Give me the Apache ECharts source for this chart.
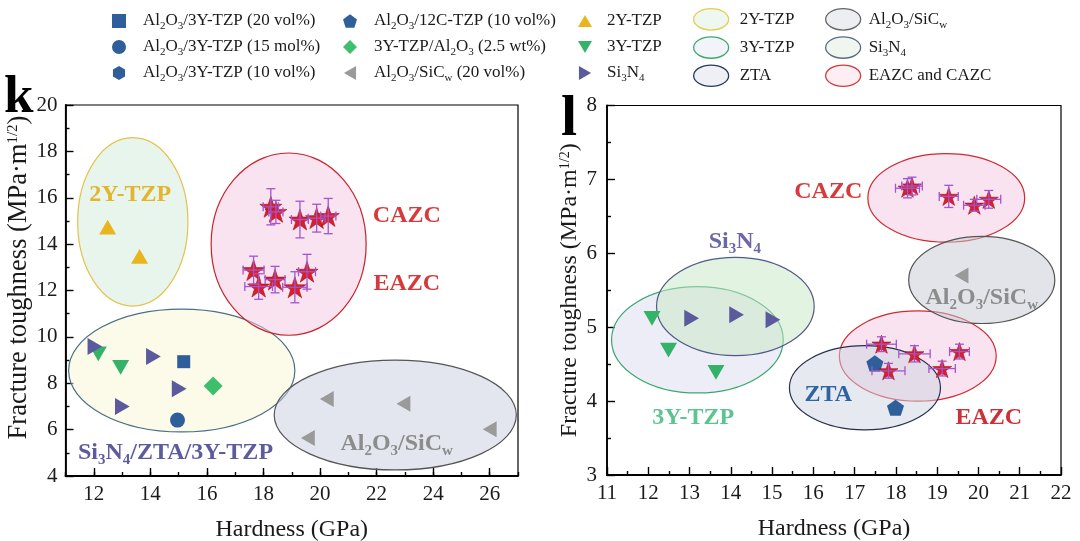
<!DOCTYPE html>
<html><head><meta charset="utf-8">
<script src="https://cdn.jsdelivr.net/npm/echarts@6/dist/echarts.min.js"></script>
<style>html,body{margin:0;padding:0;background:#fff}#c{width:1080px;height:541px}</style>
</head><body><div id="c"></div>
<script>
const FONT = '"Liberation Serif","Times New Roman",serif';

// ---------- panel k (left) ----------
const k_al3y20 = [[15.18, 8.93]];
const k_al3y15 = [[14.96, 6.41]];
const k_ytzpAl = [[16.22, 7.88]];
const k_alSiC = [[20.24, 7.32], [22.95, 7.12], [26.0, 6.02], [19.57, 5.64]];
const k_2y = [[12.49, 14.73], [13.62, 13.47]];
const k_3y = [[12.16, 9.27], [12.95, 8.68]];
const k_si3n4 = [[12.04, 9.59], [14.11, 9.15], [15.02, 7.76], [13.01, 7.0]];
// stars: x, y, x error, y error
const k_stars = [
  [18.26, 15.61, 0.27, 0.78], [18.44, 15.39, 0.25, 0.5], [19.29, 15.06, 0.3, 0.79], [19.88, 15.12, 0.3, 0.6], [20.29, 15.21, 0.27, 0.76],
  [17.65, 12.88, 0.37, 0.6], [17.83, 12.17, 0.49, 0.55], [18.41, 12.47, 0.35, 0.57], [19.11, 12.14, 0.43, 0.67], [19.54, 12.81, 0.3, 0.75]
];
// ellipses: centre x, centre y, radius x, radius y (data units)
const k_e2y = [[13.38, 14.96, 1.95, 3.63]];
const k_eMix = [[15.11, 8.55, 4.0, 2.65]];
const k_eAZC = [[18.89, 14.0, 2.74, 3.93]];
const k_eSiC = [[22.66, 6.63, 4.28, 2.37]];
const k_annotPos = [[13.29, 16.13], [23.07, 15.21], [23.07, 12.29], [14.89, 5.02], [22.71, 5.39]];
const k_annotText = ['2Y-TZP', 'CAZC', 'EAZC', 'MIX', 'SIC'];

// ---------- panel l (right) ----------
const l_al12c = [[17.49, 4.51], [17.99, 3.91]];
const l_alSiC = [[19.59, 5.70]];
const l_3y = [[12.09, 5.12], [12.49, 4.69], [13.64, 4.39]];
const l_si3n4 = [[13.05, 5.12], [14.14, 5.17], [15.02, 5.10]];
const l_stars = [
  [18.28, 6.88, 0.29, 0.13], [18.39, 6.91, 0.25, 0.12], [19.28, 6.77, 0.23, 0.15], [19.90, 6.65, 0.26, 0.08], [20.25, 6.73, 0.29, 0.12],
  [17.65, 4.77, 0.36, 0.1], [17.82, 4.41, 0.4, 0.1], [18.45, 4.64, 0.38, 0.11], [19.12, 4.44, 0.32, 0.1], [19.54, 4.67, 0.24, 0.1]
];
const l_e3y = [[13.19, 4.83, 2.08, 0.72]];
const l_eSi = [[14.11, 5.28, 1.91, 0.665]];
const l_eAZC = [[19.22, 6.75, 1.9, 0.60], [18.53, 4.61, 1.9, 0.61]];
const l_eSiC = [[20.08, 5.64, 1.77, 0.59]];
const l_eZTA = [[17.25, 4.18, 1.83, 0.57]];
const l_annotPos = [[14.10, 6.16], [16.36, 6.83], [20.08, 5.40], [13.09, 3.77], [16.36, 4.09], [20.25, 3.77]];
const l_annotText = ['SI3N4', 'CAZC', 'SIC', '3Y', 'ZTA', 'EAZC2'];

const xTicksK = [12, 14, 16, 18, 20, 22, 24, 26];

// ---------- styles ----------
const SYM = {
  square: 'path://M0,0L10,0L10,10L0,10Z',
  circle: 'circle',
  hexagon: 'path://M50,0L93.3,25L93.3,75L50,100L6.7,75L6.7,25Z',
  pentagon: 'path://M50,0L97.6,34.5L79.4,90.5L20.6,90.5L2.4,34.5Z',
  diamond: 'path://M5,0L10,5L5,10L0,5Z',
  left: 'path://M10,0L10,10L1.34,5Z',
  up: 'path://M5,0L10,8.66L0,8.66Z',
  down: 'path://M0,0L10,0L5,8.66Z',
  right: 'path://M0,0L8.66,5L0,10Z',
  star: 'path://M50,0L61.2,34.5L97.6,34.5L68.2,55.9L79.4,90.5L50,69.1L20.6,90.5L31.8,55.9L2.4,34.5L38.8,34.5Z',
  ell: 'path://M0,11A18,11 0 1,1 36,11A18,11 0 1,1 0,11Z'
};
const BLUE = '#2e5f9a';
const markerDefs = [
  {name: 'Al2O3/3Y-TZP (20 vol%)', sym: 'square', color: BLUE, size: 13, k: k_al3y20, l: []},
  {name: 'Al2O3/3Y-TZP (15 mol%)', sym: 'circle', color: BLUE, size: 15, k: k_al3y15, l: []},
  {name: 'Al2O3/3Y-TZP (10 vol%)', sym: 'hexagon', color: BLUE, size: 15, k: [], l: []},
  {name: 'Al2O3/12C-TZP (10 vol%)', sym: 'pentagon', color: BLUE, size: 17, k: [], l: l_al12c},
  {name: '3Y-TZP/Al2O3 (2.5 wt%)', sym: 'diamond', color: '#3dbf6c', size: 19, k: k_ytzpAl, l: []},
  {name: 'Al2O3/SiCw (20 vol%)', sym: 'left', color: '#9a9a9a', size: 16, k: k_alSiC, l: l_alSiC},
  {name: '2Y-TZP', sym: 'up', color: '#e8b51c', size: 17, k: k_2y, l: []},
  {name: '3Y-TZP', sym: 'down', color: '#34b368', size: 17, k: k_3y, l: l_3y},
  {name: 'Si3N4', sym: 'right', color: '#5a5a9c', size: 17, k: k_si3n4, l: l_si3n4}
];
const ellDefs = [
  {name: 'E:2Y-TZP', fill: 'rgba(210,236,220,0.5)', stroke: '#e3c34a', p: 0, data: k_e2y},
  {name: 'E:mix', fill: 'rgba(250,245,210,0.5)', stroke: '#4a6f86', p: 0, data: k_eMix},
  {name: 'E:EAZC and CAZC', fill: 'rgba(245,200,228,0.5)', stroke: '#c8242c', p: 0, data: k_eAZC},
  {name: 'E:Al2O3/SiCw', fill: 'rgba(200,206,222,0.5)', stroke: '#555555', p: 0, data: k_eSiC},
  {name: 'E:3Y-TZP', fill: 'rgba(220,220,240,0.5)', stroke: '#38a86e', p: 1, data: l_e3y},
  {name: 'E:Si3N4', fill: 'rgba(200,232,196,0.5)', stroke: '#4e5a88', p: 1, data: l_eSi},
  {name: 'E:EAZC and CAZC', fill: 'rgba(245,200,228,0.5)', stroke: '#d02a30', p: 1, data: l_eAZC},
  {name: 'E:Al2O3/SiCw', fill: 'rgba(198,202,212,0.5)', stroke: '#555555', p: 1, data: l_eSiC},
  {name: 'E:ZTA', fill: 'rgba(205,212,225,0.5)', stroke: '#25304c', p: 1, data: l_eZTA}
];
const ellLegend = {
  'E:2Y-TZP': ['#eef8f1', '#e6cc50'], 'E:3Y-TZP': ['#f3f3fa', '#3aaa70'], 'E:ZTA': ['#eef0f3', '#2a3a60'],
  'E:Al2O3/SiCw': ['#eceef2', '#666666'], 'E:Si3N4': ['#eef6ee', '#5a6a8a'], 'E:EAZC and CAZC': ['#fdeef4', '#d03a3a']
};
const LEG_TEXT = {
  'Al2O3/3Y-TZP (20 vol%)': 'Al{s|2}O{s|3}/3Y-TZP (20 vol%)',
  'Al2O3/3Y-TZP (15 mol%)': 'Al{s|2}O{s|3}/3Y-TZP (15 mol%)',
  'Al2O3/3Y-TZP (10 vol%)': 'Al{s|2}O{s|3}/3Y-TZP (10 vol%)',
  'Al2O3/12C-TZP (10 vol%)': 'Al{s|2}O{s|3}/12C-TZP (10 vol%)',
  '3Y-TZP/Al2O3 (2.5 wt%)': '3Y-TZP/Al{s|2}O{s|3} (2.5 wt%)',
  'Al2O3/SiCw (20 vol%)': 'Al{s|2}O{s|3}/SiC{s|w} (20 vol%)',
  '2Y-TZP': '2Y-TZP', '3Y-TZP': '3Y-TZP', 'Si3N4': 'Si{s|3}N{s|4}',
  'E:2Y-TZP': '2Y-TZP', 'E:3Y-TZP': '3Y-TZP', 'E:ZTA': 'ZTA',
  'E:Al2O3/SiCw': 'Al{s|2}O{s|3}/SiC{s|w}', 'E:Si3N4': 'Si{s|3}N{s|4}', 'E:EAZC and CAZC': 'EAZC and CAZC'
};
function tok(color, size, sub) {
  return sub ? {fontFamily: FONT, fontWeight: 'bold', fontSize: 15, lineHeight: 15, verticalAlign: 'bottom', color: color}
             : {fontFamily: FONT, fontWeight: 'bold', fontSize: size, lineHeight: 30, color: color};
}
const ANN_RICH = {
  pu: tok('#5d5b9e', 24), pus: tok('#5d5b9e', 24, true),
  bl: tok('#2f62a0', 24), gr: tok('#1f9e5c', 24),
  gy: tok('#8c8c8c', 24), gys: tok('#8c8c8c', 24, true),
  lp: tok('#6a68a8', 24), lps: tok('#6a68a8', 24, true)
};
const ANN = {
  '2Y-TZP': {t: '2Y-TZP', c: '#e2b52b'},
  'CAZC': {t: 'CAZC', c: '#d63a3c'},
  'EAZC': {t: 'EAZC', c: '#d63a3c'},
  'EAZC2': {t: 'EAZC', c: '#cc3038'},
  'MIX': {t: '{pu|Si}{pus|3}{pu|N}{pus|4}{pu|/}{bl|ZTA/}{gr|3Y-TZP}', c: '#5d5b9e'},
  'SIC': {t: '{gy|Al}{gys|2}{gy|O}{gys|3}{gy|/SiC}{gys|w}', c: '#8c8c8c'},
  'SI3N4': {t: '{lp|Si}{lps|3}{lp|N}{lps|4}', c: '#6a68a8'},
  '3Y': {t: '3Y-TZP', c: '#5cc490'},
  'ZTA': {t: 'ZTA', c: '#2f64a2'}
};
const ERR_COLOR = '#a255cf';

// ---------- render helpers ----------
function ellipseRender(def) {
  return function (params, api) {
    const c = api.coord([api.value(0), api.value(1)]);
    const s = api.size([api.value(2), api.value(3)]);
    return {type: 'ellipse', shape: {cx: c[0], cy: c[1], rx: s[0], ry: s[1]},
            style: {fill: def.fill, stroke: def.stroke, lineWidth: 1.2}};
  };
}
function errRender(params, api) {
  const x = api.value(0), y = api.value(1), xe = api.value(2), ye = api.value(3);
  const L = api.coord([x - xe, y]), R = api.coord([x + xe, y]);
  const T = api.coord([x, y + ye]), B = api.coord([x, y - ye]);
  const cap = 4.5;
  const st = {stroke: ERR_COLOR, lineWidth: 1.3};
  const ln = (x1, y1, x2, y2) => ({type: 'line', shape: {x1, y1, x2, y2}, style: st});
  return {type: 'group', children: [
    ln(L[0], L[1], R[0], R[1]), ln(L[0], L[1] - cap, L[0], L[1] + cap), ln(R[0], R[1] - cap, R[0], R[1] + cap),
    ln(T[0], T[1], B[0], B[1]), ln(T[0] - cap, T[1], T[0] + cap, T[1]), ln(B[0] - cap, B[1], B[0] + cap, B[1])
  ]};
}
function annotRender(texts) {
  return function (params, api) {
    const a = ANN[texts[params.dataIndex]];
    const c = api.coord([api.value(0), api.value(1)]);
    return {type: 'text', x: c[0], y: c[1], style: {
      text: a.t, fill: a.c, fontFamily: FONT, fontWeight: 'bold', fontSize: 24, lineHeight: 30,
      align: 'center', verticalAlign: 'middle', rich: ANN_RICH}};
  };
}

// ---------- series ----------
const series = [];
ellDefs.forEach(d => series.push({
  type: 'custom', name: d.name, xAxisIndex: d.p === 0 ? 0 : 2, yAxisIndex: d.p, z: 1,
  renderItem: ellipseRender(d), data: d.data, encode: {x: 0, y: 1},
  itemStyle: {color: d.fill, borderColor: d.stroke}, silent: true
}));
markerDefs.forEach(d => {
  [['k', 0, 0], ['l', 2, 1]].forEach(([key, xi, yi]) => series.push({
    type: 'scatter', name: d.name, xAxisIndex: xi, yAxisIndex: yi, z: 3, data: d[key],
    symbol: SYM[d.sym], symbolSize: d.size, symbolKeepAspect: true,
    itemStyle: {color: d.color, opacity: 1}, emphasis: {disabled: true}, silent: true
  }));
});
[[k_stars, 0, 0, 22], [l_stars, 2, 1, 19]].forEach(([arr, xi, yi, sz]) => {
  series.push({type: 'scatter', name: 'stars', xAxisIndex: xi, yAxisIndex: yi, z: 4,
    data: arr.map(s => [s[0], s[1]]), symbol: SYM.star, symbolSize: sz, symbolKeepAspect: true,
    itemStyle: {color: '#d81f2b', borderColor: '#a3101c', borderWidth: 0.6, opacity: 1},
    emphasis: {disabled: true}, silent: true});
  series.push({type: 'custom', name: 'err', xAxisIndex: xi, yAxisIndex: yi, z: 5,
    renderItem: errRender, data: arr, encode: {x: 0, y: 1}, silent: true});
});
[[k_annotPos, k_annotText, 0, 0], [l_annotPos, l_annotText, 2, 1]].forEach(([pos, txt, xi, yi]) => {
  series.push({type: 'custom', name: 'annot', xAxisIndex: xi, yAxisIndex: yi, z: 6,
    renderItem: annotRender(txt), data: pos, encode: {x: 0, y: 1}, silent: true});
});

// ---------- legends ----------
function legText(padLeft) {
  return {fontFamily: FONT, fontSize: 17, color: '#1a1a1a', lineHeight: 22, padding: [0, 0, 0, padLeft],
    rich: {s: {fontFamily: FONT, fontSize: 11, lineHeight: 11, verticalAlign: 'bottom', color: '#1a1a1a'}}};
}
function markerLegend(idx, left, pad) {
  return {orient: 'vertical', left: left, top: 10, padding: 0, itemGap: 4, itemWidth: 14, itemHeight: 14,
    selectedMode: false, symbolKeepAspect: true, formatter: n => LEG_TEXT[n], textStyle: legText(pad),
    data: idx.map(i => ({name: markerDefs[i].name, icon: SYM[markerDefs[i].sym],
      itemStyle: {color: markerDefs[i].color, borderWidth: 0}}))};
}
function ellLegendComp(names, left, pad) {
  return {orient: 'vertical', left: left, top: 8, padding: 0, itemGap: 5.5, itemWidth: 35, itemHeight: 22,
    selectedMode: false, symbolKeepAspect: true, formatter: n => LEG_TEXT[n], textStyle: legText(pad),
    data: names.map(n => ({name: n, icon: SYM.ell,
      itemStyle: {color: ellLegend[n][0], borderColor: ellLegend[n][1], borderWidth: 1.3}}))};
}

// ---------- axes ----------
const tickFont = {fontFamily: FONT, fontSize: 21, color: '#1a1a1a'};
function nameFont(size, padLeft) {
  return {fontFamily: FONT, fontSize: size, color: '#1a1a1a', lineHeight: size, padding: [0, 0, 0, padLeft],
    rich: {p: {fontFamily: FONT, fontSize: Math.round(size * 0.58), lineHeight: Math.round(size * 0.58), verticalAlign: 'top', color: '#1a1a1a'}}};
}
const axLine = {show: true, onZero: false, lineStyle: {color: '#000', width: 1.8}};
const tickLS = {color: '#000', width: 1.4};
const yName = 'Fracture toughness (MPa·m{p|1/2})';

const option = {
  animation: false,
  backgroundColor: '#fff',
  title: [
    {text: 'k', left: 4, top: 72, padding: 0, z: 0, textStyle: {fontFamily: FONT, fontWeight: 'bold', fontSize: 53, color: '#000'}},
    {text: 'l', left: 561, top: 91, padding: 0, z: 0, textStyle: {fontFamily: FONT, fontWeight: 'bold', fontSize: 58, color: '#000'}}
  ],
  grid: [
    {left: 65.5, right: 562, top: 105, bottom: 65, show: true, borderColor: '#000', borderWidth: 1.2, backgroundColor: 'transparent', outerBoundsMode: 'none'},
    {left: 607, right: 19, top: 105.5, bottom: 66, show: true, borderColor: '#000', borderWidth: 1.2, backgroundColor: 'transparent', outerBoundsMode: 'none'}
  ],
  xAxis: [
    {gridIndex: 0, type: 'value', min: 11, max: 27, interval: 1, position: 'bottom', axisLine: axLine,
     axisTick: {show: true, inside: true, length: 8, customValues: xTicksK, lineStyle: tickLS},
     axisLabel: {customValues: xTicksK, margin: 8, ...tickFont}, splitLine: {show: false},
     name: 'Hardness (GPa)', nameLocation: 'middle', nameGap: 42, nameMoveOverlap: false, nameTextStyle: nameFont(24, 0)},
    {gridIndex: 0, type: 'value', min: 11, max: 27, interval: 1, position: 'bottom', offset: 0,
     axisLine: {show: false}, axisTick: {show: true, inside: true, length: 4, lineStyle: tickLS},
     axisLabel: {show: false}, splitLine: {show: false}},
    {gridIndex: 1, type: 'value', min: 11, max: 22, interval: 1, position: 'bottom', axisLine: axLine,
     axisTick: {show: true, inside: true, length: 8, lineStyle: tickLS},
     minorTick: {show: true, splitNumber: 2, length: 4, lineStyle: tickLS},
     axisLabel: {margin: 8, ...tickFont}, splitLine: {show: false},
     name: 'Hardness (GPa)', nameLocation: 'middle', nameGap: 42, nameMoveOverlap: false, nameTextStyle: nameFont(24, 0)}
  ],
  yAxis: [
    {gridIndex: 0, type: 'value', min: 4, max: 20, interval: 2, axisLine: axLine,
     axisTick: {show: true, inside: true, length: 8, lineStyle: tickLS},
     minorTick: {show: true, splitNumber: 2, length: 4, lineStyle: tickLS},
     axisLabel: {margin: 8, ...tickFont}, splitLine: {show: false},
     name: yName, nameLocation: 'middle', nameGap: 33, nameMoveOverlap: false, nameTextStyle: nameFont(26.5, 26)},
    {gridIndex: 1, type: 'value', min: 3, max: 8, interval: 1, axisLine: axLine,
     axisTick: {show: true, inside: true, length: 8, lineStyle: tickLS},
     minorTick: {show: true, splitNumber: 2, length: 4, lineStyle: tickLS},
     axisLabel: {margin: 10, ...tickFont}, splitLine: {show: false},
     name: yName, nameLocation: 'middle', nameGap: 25, nameMoveOverlap: false, nameTextStyle: nameFont(24, 0)}
  ],
  legend: [
    markerLegend([0, 1, 2], 112, 12),
    markerLegend([3, 4, 5], 343, 12),
    markerLegend([6, 7, 8], 578, 10),
    ellLegendComp(['E:2Y-TZP', 'E:3Y-TZP', 'E:ZTA'], 693, 6),
    ellLegendComp(['E:Al2O3/SiCw', 'E:Si3N4', 'E:EAZC and CAZC'], 825, 3)
  ],
  series: series
};
const chart = echarts.init(document.getElementById('c'), null, {renderer: 'canvas'});
chart.setOption(option);
</script>
</body></html>
